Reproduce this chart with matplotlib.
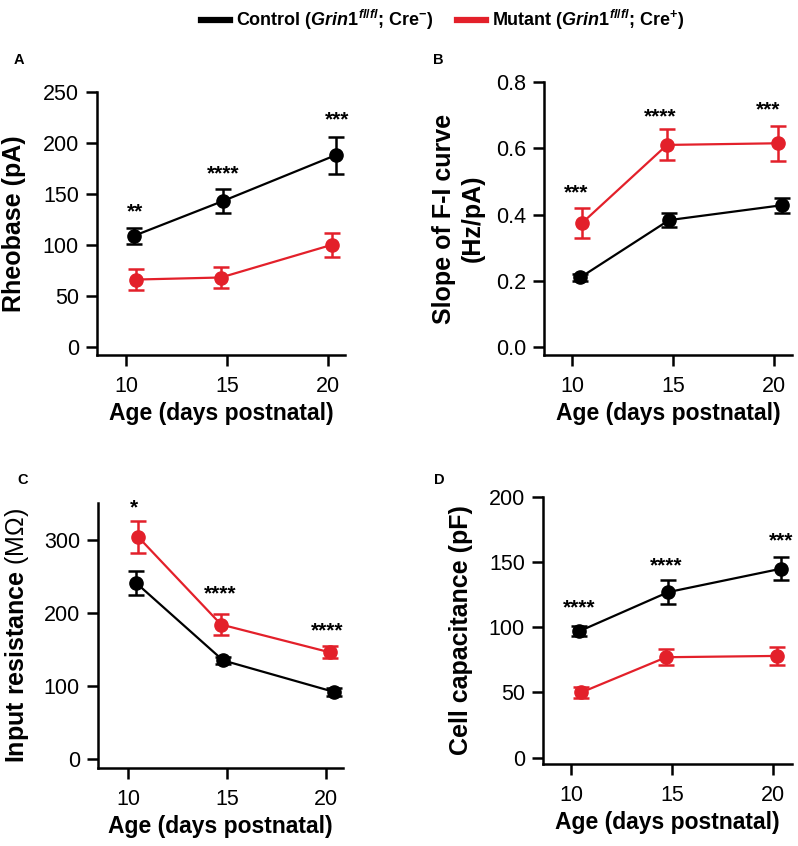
import matplotlib
matplotlib.use('Agg')
import matplotlib.pyplot as plt
from matplotlib.lines import Line2D

plt.rcParams['font.family'] = ['Liberation Sans', 'DejaVu Sans']
plt.rcParams['mathtext.fontset'] = 'custom'
plt.rcParams['mathtext.rm'] = 'Liberation Sans:bold'
plt.rcParams['mathtext.it'] = 'Liberation Sans:italic:bold'
plt.rcParams['mathtext.bf'] = 'Liberation Sans:bold'
plt.rcParams['mathtext.sf'] = 'Liberation Sans'

RED = '#e3202a'

# ages (days postnatal)
age_ctrl = [10.4, 14.8, 20.4]
age_mut = [10.5, 14.7, 20.2]

# A: rheobase (pA)
rheo_ctrl = [109, 143, 188]
rheo_ctrl_err = [8, 12, 18]
rheo_mut = [66, 68, 100]
rheo_mut_err = [10, 10, 12]
rheo_stars = ['**', '****', '***']
rheo_star_x = [10.45, 14.8, 20.45]
rheo_star_y = [132, 170, 223]

# B: slope of F-I curve (Hz/pA)
slope_ctrl = [0.21, 0.383, 0.428]
slope_ctrl_err = [0.01, 0.022, 0.022]
slope_mut = [0.375, 0.61, 0.615]
slope_mut_err = [0.045, 0.047, 0.053]
slope_stars = ['***', '****', '***']
slope_star_x = [10.2, 14.35, 19.7]
slope_star_y = [0.465, 0.695, 0.716]

# C: input resistance (MOhm)
rin_ctrl = [241, 135, 92]
rin_ctrl_err = [16, 5, 5]
rin_mut = [304, 184, 146]
rin_mut_err = [22, 14, 8]
rin_stars = ['*', '****', '****']
rin_star_x = [10.3, 14.65, 20.05]
rin_star_y = [344, 226, 175]

# D: cell capacitance (pF)
cap_ctrl = [97, 127, 145]
cap_ctrl_err = [4, 9, 9]
cap_mut = [50, 77, 78]
cap_mut_err = [4, 6, 7]
cap_stars = ['****', '****', '***']
cap_star_x = [10.4, 14.7, 20.4]
cap_star_y = [115, 147, 166]

fig = plt.figure(figsize=(7.98, 8.46), dpi=100)


def panel(rect, ctrl, ctrl_err, mut, mut_err, stars, sx, sy,
          ylabel, yticks, ylim, xlim, ytick_fmt, letter, letter_pos, labelpad):
  ax = fig.add_axes(rect)
  ax.errorbar(age_ctrl, ctrl, yerr=ctrl_err, color='black', marker='o',
              markersize=9.5, lw=1.6, elinewidth=1.8, capsize=5.5,
              capthick=1.8, zorder=3)
  ax.errorbar(age_mut, mut, yerr=mut_err, color=RED, marker='o',
              markersize=9.5, lw=1.6, elinewidth=1.8, capsize=5.5,
              capthick=1.8, zorder=2)
  for s, x, y in zip(stars, sx, sy):
    ax.text(x, y, s, ha='center', va='center', fontsize=15, fontweight='bold')
  ax.set_xlim(xlim)
  ax.set_ylim(ylim)
  ax.set_xticks([10, 15, 20])
  ax.set_yticks(yticks)
  ax.set_yticklabels([ytick_fmt.format(v) for v in yticks])
  ax.spines['top'].set_visible(False)
  ax.spines['right'].set_visible(False)
  ax.spines['left'].set_linewidth(1.8)
  ax.spines['bottom'].set_linewidth(1.8)
  ax.tick_params(direction='out', length=8, width=1.8, labelsize=15.5)
  ax.tick_params(axis='x', pad=7)
  ax.tick_params(axis='y', pad=5)
  ax.set_ylabel(ylabel, fontsize=18, fontweight='bold', labelpad=labelpad,
                linespacing=1.25)
  ax.set_xlabel('Age (days postnatal)', fontsize=16.5, fontweight='bold',
                labelpad=4)
  fig.text(letter_pos[0], letter_pos[1], letter, fontsize=10.5,
           fontweight='bold', ha='center', va='center')
  return ax


panel([0.1216, 0.5804, 0.3104, 0.3109], rheo_ctrl, rheo_ctrl_err, rheo_mut,
      rheo_mut_err, rheo_stars, rheo_star_x, rheo_star_y, 'Rheobase (pA)',
      [0, 50, 100, 150, 200, 250], (-8, 250), (8.55, 20.85), '{:g}', 'A',
      (0.024, 0.929), 12)

panel([0.6817, 0.5804, 0.3108, 0.3227], slope_ctrl, slope_ctrl_err, slope_mut,
      slope_mut_err, slope_stars, slope_star_x, slope_star_y,
      'Slope of F-I curve\n(Hz/pA)', [0.0, 0.2, 0.4, 0.6, 0.8], (-0.024, 0.8),
      (8.6, 20.9), '{:.1f}', 'B', (0.549, 0.929), 8)

panel([0.1228, 0.0922, 0.307, 0.3132], rin_ctrl, rin_ctrl_err, rin_mut,
      rin_mut_err, rin_stars, rin_star_x, rin_star_y,
      r'Input resistance $\mathsf{(M\Omega)}$',
      [0, 100, 200, 300], (-12, 350), (8.48, 20.86), '{:g}', 'C',
      (0.029, 0.433), 9)

panel([0.6805, 0.0969, 0.3125, 0.3156], cap_ctrl, cap_ctrl_err, cap_mut,
      cap_mut_err, cap_stars, cap_star_x, cap_star_y, 'Cell capacitance (pF)',
      [0, 50, 100, 150, 200], (-5, 200), (8.6, 20.95), '{:g}', 'D',
      (0.551, 0.433), 11)

# legend at top
handles = [Line2D([], [], color='black', lw=4.5),
           Line2D([], [], color=RED, lw=4.5)]
labels = [r'Control ($\it{Grin1}^{\it{fl/fl}}$; Cre$^{-}$)',
          r'Mutant ($\it{Grin1}^{\it{fl/fl}}$; Cre$^{+}$)']
fig.legend(handles, labels, loc='center', bbox_to_anchor=(0.555, 0.976),
           ncol=2, frameon=False, borderpad=0, handlelength=1.6,
           columnspacing=1.3, handletextpad=0.35,
           prop={'weight': 'bold', 'size': 13})

fig.savefig('out.png', dpi=100)
